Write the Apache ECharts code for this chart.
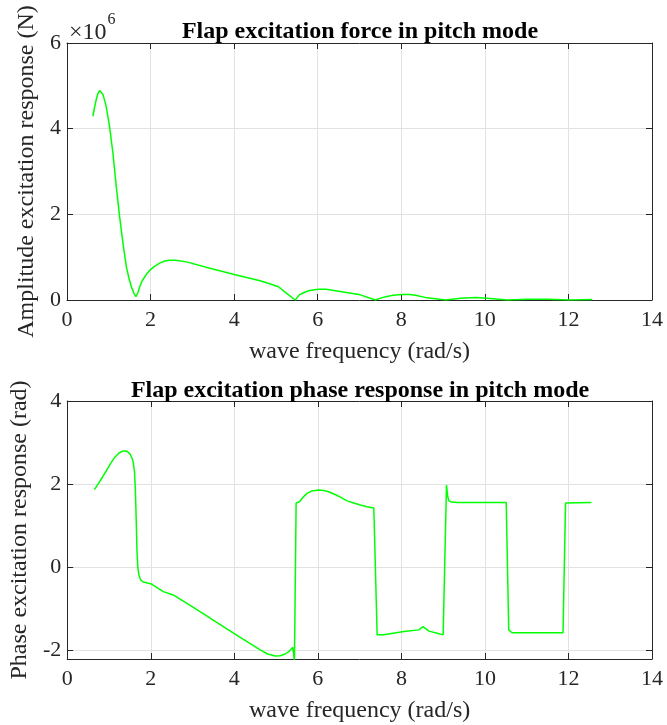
<!DOCTYPE html>
<html>
<head>
<meta charset="utf-8">
<script src="https://cdn.jsdelivr.net/npm/echarts@6/dist/echarts.min.js"></script>
<style>
  html, body { margin: 0; padding: 0; background: #ffffff; }
  #chart { width: 667px; height: 725px; }
</style>
</head>
<body>
<div id="chart"></div>
<script>
// Wave frequency (rad/s) and flap excitation force amplitude (x10^6 N)
const ampFreq = [0.62, 0.66, 0.70, 0.74, 0.78, 0.82, 0.86, 0.90, 0.94, 1.02, 1.10, 1.18, 1.26, 1.34, 1.42, 1.48, 1.54, 1.60, 1.65, 1.70, 1.74, 1.80, 1.90, 2.00, 2.10, 2.22, 2.34, 2.46, 2.60, 2.86, 3.42, 3.98, 4.62, 4.85, 5.06, 5.25, 5.46, 5.56, 5.66, 5.80, 6.02, 6.20, 6.46, 7.02, 7.38, 7.52, 7.66, 7.80, 8.02, 8.20, 8.34, 8.62, 9.06, 9.42, 9.78, 10.06, 10.54, 11.02, 11.50, 12.05, 12.57];
const ampValue = [4.29, 4.50, 4.68, 4.82, 4.89, 4.88, 4.80, 4.66, 4.51, 4.04, 3.42, 2.64, 1.94, 1.32, 0.78, 0.52, 0.31, 0.16, 0.08, 0.18, 0.31, 0.45, 0.60, 0.71, 0.79, 0.86, 0.91, 0.93, 0.93, 0.89, 0.74, 0.60, 0.45, 0.38, 0.31, 0.16, 0.00, 0.12, 0.17, 0.22, 0.25, 0.25, 0.21, 0.12, 0.00, 0.05, 0.08, 0.11, 0.13, 0.13, 0.11, 0.05, 0.00, 0.04, 0.06, 0.04, 0.00, 0.02, 0.02, 0.00, 0.01];

// Wave frequency (rad/s) and excitation phase (rad)
const phaseFreq = [0.65, 0.75, 0.85, 0.94, 1.04, 1.14, 1.24, 1.34, 1.42, 1.50, 1.55, 1.58, 1.61, 1.63, 1.65, 1.67, 1.69, 1.72, 1.76, 1.82, 2.02, 2.30, 2.54, 3.18, 3.98, 4.62, 4.80, 4.98, 5.10, 5.22, 5.32, 5.40, 5.44, 5.48, 5.56, 5.64, 5.74, 5.86, 6.02, 6.14, 6.26, 6.40, 6.54, 6.70, 6.86, 7.02, 7.18, 7.34, 7.42, 7.58, 8.06, 8.42, 8.47, 8.52, 8.58, 8.66, 8.86, 9.00, 9.08, 9.11, 9.14, 9.20, 9.34, 10.51, 10.57, 10.65, 11.87, 11.93, 12.55];
const phaseValue = [1.87, 2.02, 2.18, 2.33, 2.50, 2.65, 2.75, 2.80, 2.80, 2.73, 2.63, 2.53, 2.30, 1.90, 1.21, 0.40, 0.00, -0.20, -0.30, -0.35, -0.40, -0.58, -0.66, -1.06, -1.58, -1.98, -2.08, -2.13, -2.12, -2.08, -2.01, -1.92, -2.25, 1.55, 1.58, 1.68, 1.78, 1.84, 1.86, 1.85, 1.82, 1.76, 1.69, 1.60, 1.55, 1.50, 1.46, 1.43, -1.62, -1.62, -1.54, -1.50, -1.46, -1.42, -1.47, -1.53, -1.58, -1.62, 1.98, 1.70, 1.60, 1.57, 1.56, 1.56, -1.50, -1.57, -1.57, 1.55, 1.56];

// Axis ranges and tick values
const freqTicks = { min: 0, max: 14, interval: 2 };
const ampTicks = { min: 0, max: 6, interval: 2 };
const phaseRange = { min: -2.2, max: 4 };
const phaseTickValues = [-2, 0, 2, 4];

const FONT = "'Liberation Serif', 'Times New Roman', serif";
const INK = '#262626';
const LINE = '#00ff00';
const GRIDLINE = '#e2e2e2';

const chart = echarts.init(document.getElementById('chart'), null, { renderer: 'canvas' });

function pairs(xs, ys) { return xs.map((x, i) => [x, ys[i]]); }

const tickStyle = { show: true, inside: true, length: 6, lineStyle: { color: INK } };
const axisLineStyle = { show: true, onZero: false, lineStyle: { color: INK, width: 1 } };

function mainX(grid, name) {
  return {
    type: 'value', gridIndex: grid, position: 'bottom',
    min: freqTicks.min, max: freqTicks.max, interval: freqTicks.interval,
    name: name, nameLocation: 'middle', nameGap: 40,
    nameTextStyle: { fontFamily: FONT, fontSize: 24, color: INK },
    axisLine: axisLineStyle,
    axisTick: tickStyle,
    axisLabel: { fontFamily: FONT, fontSize: 22, color: INK, margin: 9 },
    splitLine: { show: true, lineStyle: { color: GRIDLINE, width: 1 } }
  };
}
function boxX(grid) {
  return {
    type: 'value', gridIndex: grid, position: 'top',
    min: freqTicks.min, max: freqTicks.max, interval: freqTicks.interval,
    axisLine: axisLineStyle, axisTick: tickStyle,
    axisLabel: { show: false }, splitLine: { show: false }
  };
}

chart.setOption({
  animation: false,
  backgroundColor: '#ffffff',
  title: [
    { text: 'Flap excitation force in pitch mode', left: 360, top: 20, textAlign: 'center', padding: 0,
      textStyle: { fontFamily: FONT, fontSize: 24, fontWeight: 'bold', color: '#000000' } },
    { text: 'Flap excitation phase response in pitch mode', left: 360, top: 379, textAlign: 'center', padding: 0,
      textStyle: { fontFamily: FONT, fontSize: 24, fontWeight: 'bold', color: '#000000' } }
  ],
  graphic: [
    { type: 'text', left: 69, top: 12,
      style: { text: '{a|\u00d710}{b|6}', fill: INK,
        rich: { a: { fontFamily: FONT, fontSize: 24, color: INK, padding: [9, 1, 0, 0] },
                b: { fontFamily: FONT, fontSize: 16, color: INK, verticalAlign: 'top' } } } }
  ],
  grid: [
    { left: 67, right: 15, top: 43, height: 257, containLabel: false },
    { left: 67, right: 15, top: 401, height: 258, containLabel: false }
  ],
  xAxis: [
    mainX(0, 'wave frequency (rad/s)'), boxX(0),
    mainX(1, 'wave frequency (rad/s)'), boxX(1)
  ],
  yAxis: [
    {
      type: 'value', gridIndex: 0, position: 'left',
      min: ampTicks.min, max: ampTicks.max, interval: ampTicks.interval,
      name: 'Amplitude excitation response (N)', nameLocation: 'middle', nameGap: 22,
      nameTextStyle: { fontFamily: FONT, fontSize: 24, color: INK },
      axisLine: axisLineStyle, axisTick: tickStyle,
      axisLabel: { fontFamily: FONT, fontSize: 22, color: INK, margin: 6 },
      splitLine: { show: true, lineStyle: { color: GRIDLINE, width: 1 } }
    },
    {
      type: 'value', gridIndex: 0, position: 'right',
      min: ampTicks.min, max: ampTicks.max, interval: ampTicks.interval,
      axisLine: axisLineStyle, axisTick: tickStyle,
      axisLabel: { show: false }, splitLine: { show: false }
    },
    {
      type: 'value', gridIndex: 1, position: 'left',
      min: phaseRange.min, max: phaseRange.max,
      name: 'Phase excitation response (rad)', nameLocation: 'middle', nameGap: 31,
      nameTextStyle: { fontFamily: FONT, fontSize: 24, color: INK },
      axisLine: axisLineStyle,
      axisTick: Object.assign({ customValues: phaseTickValues }, tickStyle),
      axisLabel: { fontFamily: FONT, fontSize: 22, color: INK, margin: 6, customValues: phaseTickValues },
      splitLine: { show: true, lineStyle: { color: GRIDLINE, width: 1 } }
    },
    {
      type: 'value', gridIndex: 1, position: 'right',
      min: phaseRange.min, max: phaseRange.max,
      axisLine: axisLineStyle,
      axisTick: Object.assign({ customValues: phaseTickValues }, tickStyle),
      axisLabel: { show: false }, splitLine: { show: false }
    }
  ],
  series: [
    { type: 'line', xAxisIndex: 0, yAxisIndex: 0, data: pairs(ampFreq, ampValue),
      showSymbol: false, clip: true, lineStyle: { color: LINE, width: 1.5 }, itemStyle: { color: LINE } },
    { type: 'line', xAxisIndex: 2, yAxisIndex: 2, data: pairs(phaseFreq, phaseValue),
      showSymbol: false, clip: true, lineStyle: { color: LINE, width: 1.5 }, itemStyle: { color: LINE } }
  ]
});
</script>
</body>
</html>
